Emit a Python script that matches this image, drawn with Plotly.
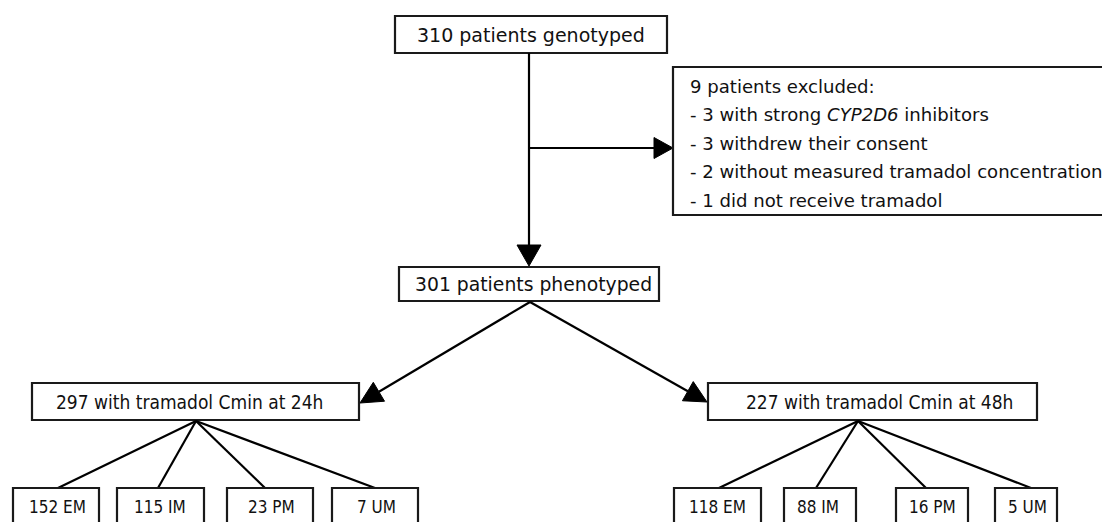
import math
import plotly.graph_objects as go

# ---- data ----
genotyped = 310
excluded_total = 9
exclusion_reasons = [
    "3 with strong <i>CYP2D6</i> inhibitors",
    "3 withdrew their consent",
    "2 without measured tramadol concentration",
    "1 did not receive tramadol",
]
phenotyped = 301
timepoints = ["24h", "48h"]
timepoint_n = [297, 227]
phenotype_labels = ["EM", "IM", "PM", "UM"]
counts_24h = [152, 115, 23, 7]
counts_48h = [118, 88, 16, 5]

# ---- layout (pixel coordinates) ----
W, H = 1102, 522
FONT = "DejaVu Sans"
FONT_C = "DejaVu Sans Condensed, DejaVu Sans"
LINE = dict(color="black", width=2.2)
BOX = dict(color="#1a1a1a", width=2.2)

shapes = []
annotations = []


def box(x0, x1, y0, y1):
    shapes.append(dict(type="rect", xref="x", yref="y", x0=x0, x1=x1, y0=y0, y1=y1,
                       line=BOX, fillcolor="white", layer="above"))


def text(x, y, s, size=18, family=FONT, anchor="center"):
    annotations.append(dict(x=x, y=y, xref="x", yref="y", text=s, showarrow=False,
                            xanchor=anchor, yanchor="middle",
                            font=dict(family=family, size=size, color="#111")))


def seg(x0, y0, x1, y1):
    shapes.append(dict(type="line", xref="x", yref="y", x0=x0, y0=y0, x1=x1, y1=y1,
                       line=LINE, layer="above"))


def arrow(x0, y0, x1, y1, L=20, hw=11):
    dx, dy = x1 - x0, y1 - y0
    d = math.hypot(dx, dy)
    ux, uy = dx / d, dy / d
    bx, by = x1 - ux * L, y1 - uy * L
    seg(x0, y0, bx, by)
    px, py = -uy, ux
    path = (f"M {x1},{y1} L {bx + px * hw},{by + py * hw} "
            f"L {bx - px * hw},{by - py * hw} Z")
    shapes.append(dict(type="path", xref="x", yref="y", path=path,
                       fillcolor="black", line=dict(color="black", width=1), layer="above"))


# top box
box(395, 667, 16, 53)
text(531, 35, f"{genotyped} patients genotyped", size=19)

# vertical arrow to phenotyped
arrow(529, 53, 529, 266, L=21, hw=12)
# exclusion arrow
arrow(529, 148, 673, 148, L=19, hw=10.5)

# exclusion box
box(673, 1110, 67, 215)
ex_lines = [f"{excluded_total} patients excluded:"] + ["- " + r for r in exclusion_reasons]
for i, s in enumerate(ex_lines):
    text(688, 86 + i * 28.5, s, size=18.1, anchor="left")

# phenotyped box
box(399, 659, 267, 301)
text(533, 284, f"{phenotyped} patients phenotyped", size=18.8)

# arrows to timepoint boxes
arrow(530, 302, 360, 403, L=22, hw=11)
arrow(530, 302, 707, 402, L=22, hw=11)

tp_boxes = [(32, 359), (708, 1037)]
tp_text_x = [189, 879]
fan_origin = [196, 858]
bottom_boxes = [
    [(13, 99), (117, 204), (227, 313), (332, 418)],
    [(674, 761), (784, 856), (896, 968), (995, 1057)],
]
bottom_text_x = [[57, 160, 271, 376], [717, 818, 932, 1027]]
fan_targets = [[58, 158, 265, 375], [719, 816, 926, 1031]]
counts = [counts_24h, counts_48h]

for g in range(2):
    bx0, bx1 = tp_boxes[g]
    box(bx0, bx1, 383, 420)
    text(tp_text_x[g], 402, f"{timepoint_n[g]} with tramadol Cmin at {timepoints[g]}",
         size=19, family=FONT_C)
    for k in range(4):
        seg(fan_origin[g], 421, fan_targets[g][k], 488)
        x0, x1 = bottom_boxes[g][k]
        box(x0, x1, 488, 540)
        text(bottom_text_x[g][k], 507, f"{counts[g][k]} {phenotype_labels[k]}", size=17, family=FONT_C)

fig = go.Figure()
fig.update_layout(
    width=W, height=H,
    margin=dict(l=0, r=0, t=0, b=0),
    paper_bgcolor="white", plot_bgcolor="white",
    xaxis=dict(range=[0, W], visible=False, fixedrange=True),
    yaxis=dict(range=[H, 0], visible=False, fixedrange=True),
    shapes=shapes, annotations=annotations, showlegend=False,
)
fig.write_html("out.html", config={"displayModeBar": False},
               post_script="document.body.style.margin='0';document.body.style.overflow='hidden';")
